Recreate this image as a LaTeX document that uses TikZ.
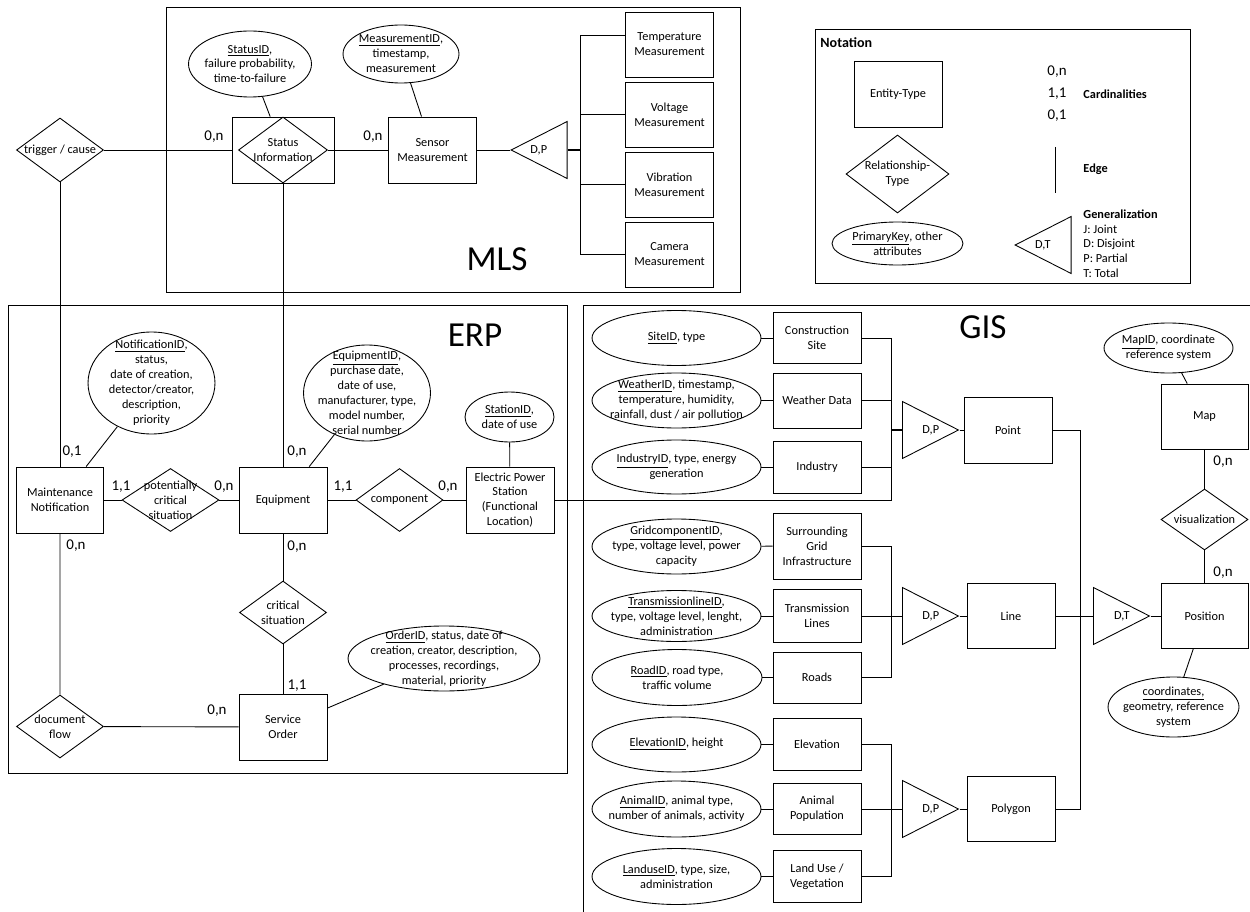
\documentclass[tikz,border=0pt]{standalone}
\usepackage{fontspec}
\setmainfont{Carlito}
\usepackage{tikz}
\usetikzlibrary{shapes.geometric, calc}
\newcommand{\erfont}{\fontsize{7}{8.5}\selectfont}
\newcommand{\cardfont}{\fontsize{8.5}{10}\selectfont}
\newcommand{\regionfont}{\fontsize{20}{24}\selectfont}
\tikzset{
    entity/.style={rectangle, draw, inner sep=1pt, minimum width=1.76cm, minimum height=1.32cm, align=center, font=\erfont},
    relation/.style={diamond, draw, inner sep=0pt, minimum width=1.74cm, minimum height=1.26cm, label={[font=\erfont, align=center]center:#1}},
    attribute/.style={ellipse, draw, inner sep=0pt, label={[font=\erfont, align=center]center:#1}},
    generalization/.style={isosceles triangle, isosceles triangle stretches, draw, inner sep=0pt, minimum width=1.14cm, minimum height=1.12cm},
    gentext/.style={font=\erfont, inner sep=0pt},
    card/.style={font=\cardfont, inner sep=0pt},
    region/.style={font=\regionfont, inner sep=0pt},
    keytext/.style={font=\erfont\bfseries, anchor=west, inner sep=0pt},
    gbus/.style={line width=1pt}
}

\begin{document}
\begin{tikzpicture}[x=0.02cm, y=-0.02cm, line width=0.5pt]
    \useasboundingbox (0,0) rectangle (1250,912);

    % Frames
    \draw (166,7) rectangle (740,292);
    \draw (8,305) rectangle (567,773);
    \draw (1250,305) -| (583,912);
    \draw (815,29) rectangle (1190,283);
    \node[region] (mlstitle) at (497,259) {MLS};
    \node[region] (erptitle) at (475,335) {ERP};
    \node[region] (gistitle) at (983,327) {GIS};

    % MLS
    \node[attribute={\underline{StatusID},\\failure probability,\\time-to-failure}, minimum width=2.46cm, minimum height=1.32cm] (statattr) at (250,64) {};
    \node[entity, minimum width=2.04cm] (statbox) at (283,150) {};
    \node[relation={Status\\Information}, minimum width=1.78cm, minimum height=1.32cm] (statrel) at (283,150) {};
    \node[attribute={\underline{MeasurementID},\\timestamp,\\measurement}, minimum width=2.32cm, minimum height=1.16cm] (measattr) at (401,54) {};
    \node[entity] (sensor) at (432.5,150) {Sensor\\Measurement};
    \node[relation={trigger / cause}, minimum height=1.28cm] (trig) at (60,150) {};
    \node[generalization, shape border rotate=180, anchor=apex] (gm) at (510,150) {};
    \node[gentext] (gmtxt) at ($(gm.apex)!.5!(gm.lower side)$) {D,P};
    \node[entity, minimum height=1.3cm] (temp) at (669.5,44.5) {Temperature\\Measurement};
    \node[entity, minimum height=1.3cm] (volt) at (669.5,114.5) {Voltage\\Measurement};
    \node[entity, minimum height=1.3cm] (vib) at (669.5,184.5) {Vibration\\Measurement};
    \node[entity, minimum height=1.3cm] (cam) at (669.5,254.5) {Camera\\Measurement};
    \coordinate (mbus) at (580,150);
    \node[card] (cstat) at (214,137) {0,n};
    \node[card] (csens) at (373,137) {0,n};

    \draw (trig) -- (statbox);
    \draw (statrel) -- (sensor);
    \draw (statattr) -- (statbox);
    \draw (measattr) -- (sensor);
    \draw (sensor) -- (gm.apex);
    \draw[gbus] (gm.lower side) -- (mbus);
    \draw ([yshift=0.19cm]temp.west) -| (cam.west -| mbus) -- (cam.west);
    \draw (volt.west) -- (volt.west -| mbus);
    \draw (vib.west) -- (vib.west -| mbus);

    % Notation
    \node[font=\fontsize{8}{10}\selectfont\bfseries, anchor=west, inner sep=0pt] (nottitle) at (820,43) {Notation};
    \node[entity] (nent) at (898,94) {Entity-Type};
    \node[relation={Relationship-\\Type}, minimum width=2.06cm, minimum height=1.56cm] (nrel) at (897.5,174) {};
    \node[attribute={\underline{PrimaryKey}, other\\attributes}, minimum width=2.62cm, minimum height=0.86cm] (nattr) at (897.5,243.5) {};
    \node[card] (n0n) at (1057,72) {0,n};
    \node[card] (n11) at (1057,94) {1,1};
    \node[card] (n01) at (1057,116) {0,1};
    \node[keytext] (ncard) at (1083,94) {Cardinalities};
    \coordinate (nedgetop) at (1055,147);
    \coordinate (nedgebot) at (1055,193);
    \draw (nedgetop) -- (nedgebot);
    \node[keytext] (nedge) at (1083,169) {Edge};
    \node[generalization, shape border rotate=180, anchor=apex] (ngen) at (1014,245) {};
    \node[gentext] (ngentxt) at ($(ngen.apex)!.5!(ngen.lower side)$) {D,T};
    \node[font=\erfont, anchor=north west, align=left, inner sep=0pt] (ngenkey) at (1083,209) {\textbf{Generalization}\\J: Joint\\D: Disjoint\\P: Partial\\T: Total};

    % ERP
    \node[attribute={\underline{NotificationID},\\status,\\date of creation,\\detector/creator,\\description,\\priority}, minimum width=2.54cm, minimum height=2.04cm] (notifattr) at (151.5,383) {};
    \node[entity, minimum width=1.74cm] (maint) at (60,500) {Maintenance\\Notification};
    \node[relation={potentially\\critical\\situation}, minimum width=1.94cm] (pcs) at (170.5,500) {};
    \node[entity] (equip) at (283,500) {Equipment};
    \node[attribute={\underline{EquipmentID},\\purchase date,\\date of use,\\manufacturer, type,\\model number,\\serial number}, minimum width=2.54cm, minimum height=1.92cm] (equipattr) at (367,393) {};
    \node[relation={component}] (comp) at (399.5,500) {};
    \node[entity] (eps) at (510,500) {Electric Power\\Station\\(Functional\\Location)};
    \node[attribute={\underline{StationID},\\date of use}, minimum width=1.78cm, minimum height=1cm] (stationattr) at (509.5,417) {};
    \node[relation={critical\\situation}] (crit) at (283,612.5) {};
    \node[entity] (svc) at (283,727) {Service\\Order};
    \node[attribute={\underline{OrderID}, status, date of\\creation, creator, description,\\processes, recordings,\\material, priority}, minimum width=3.84cm, minimum height=1.3cm] (orderattr) at (444,658.5) {};
    \node[relation={document\\flow}] (docflow) at (60,726.5) {};
    \node[card] (cmaintt) at (72,452) {0,1};
    \node[card] (cmaintb) at (76,546) {0,n};
    \node[card] (cpcsl) at (121,487) {1,1};
    \node[card] (cpcsr) at (224,487) {0,n};
    \node[card] (cequipt) at (297,452) {0,n};
    \node[card] (cequipb) at (297,547) {0,n};
    \node[card] (ccompl) at (343,487) {1,1};
    \node[card] (ccompr) at (448,487) {0,n};
    \node[card] (csvct) at (297,686) {1,1};
    \node[card] (csvcl) at (217,711) {0,n};

    \draw (trig) -- (maint);
    \draw (statrel) -- (equip);
    \draw (notifattr) -- (maint);
    \draw (maint) -- (pcs) -- (equip) -- (comp) -- (eps);
    \draw (equipattr) -- (equip);
    \draw (stationattr) -- (eps);
    \draw (equip) -- (crit) -- (svc);
    \draw (orderattr) -- (svc);
    \draw (maint) -- (docflow) -- (svc);

    % GIS
    \node[attribute={\underline{SiteID}, type}, minimum width=3.38cm, minimum height=1.1cm] (siteattr) at (676.5,338) {};
    \node[entity, minimum height=1.02cm] (site) at (817,338) {Construction\\Site};
    \node[attribute={\underline{WeatherID}, timestamp,\\temperature, humidity,\\rainfall, dust / air pollution}, minimum width=3.38cm, minimum height=1.1cm] (weatherattr) at (676.5,400.5) {};
    \node[entity, minimum height=1.1cm] (weather) at (817,400.5) {Weather Data};
    \node[attribute={\underline{IndustryID}, type, energy\\generation}, minimum width=3.38cm, minimum height=1.08cm] (industryattr) at (676.5,467) {};
    \node[entity, minimum height=1.04cm] (industry) at (817,467) {Industry};
    \node[attribute={\underline{GridcomponentID},\\type, voltage level, power\\capacity}, minimum width=3.38cm, minimum height=1.1cm] (gridattr) at (676.5,546.5) {};
    \node[entity] (grid) at (817,546) {Surrounding\\Grid\\Infrastructure};
    \node[attribute={\underline{TransmissionlineID},\\type, voltage level, lenght,\\administration}, minimum width=3.38cm, minimum height=1.02cm] (transattr) at (676.5,616) {};
    \node[entity, minimum height=1.06cm] (trans) at (817,616) {Transmission\\Lines};
    \node[attribute={\underline{RoadID}, road type,\\traffic volume}, minimum width=3.4cm, minimum height=1.12cm] (roadattr) at (677,677.5) {};
    \node[entity, minimum height=1.02cm] (roads) at (817,677.5) {Roads};
    \node[attribute={\underline{ElevationID}, height}, minimum width=3.38cm, minimum height=1.1cm] (elevattr) at (676.5,744.5) {};
    \node[entity, minimum height=1.04cm] (elev) at (817,744.5) {Elevation};
    \node[attribute={\underline{AnimalID}, animal type,\\number of animals, activity}, minimum width=3.38cm, minimum height=1.12cm] (animalattr) at (676.5,809) {};
    \node[entity, minimum height=1.02cm] (animal) at (817,809) {Animal\\Population};
    \node[attribute={\underline{LanduseID}, type, size,\\administration}, minimum width=3.38cm, minimum height=1.12cm] (landattr) at (676.5,876.5) {};
    \node[entity, minimum height=1.04cm] (land) at (817,876.5) {Land Use /\\Vegetation};

    \node[generalization, anchor=lower side] (gp) at (902,430) {};
    \node[gentext] (gptxt) at ($(gp.apex)!.5!(gp.lower side)$) {D,P};
    \node[entity] (point) at (1008,430) {Point};
    \node[generalization, anchor=lower side] (gl) at (902,616) {};
    \node[gentext] (gltxt) at ($(gl.apex)!.5!(gl.lower side)$) {D,P};
    \node[entity, minimum height=1.3cm] (lineent) at (1011,616) {Line};
    \node[generalization, anchor=lower side] (gy) at (902,809) {};
    \node[gentext] (gytxt) at ($(gy.apex)!.5!(gy.lower side)$) {D,P};
    \node[entity, minimum height=1.3cm] (poly) at (1011,809) {Polygon};
    \node[generalization, anchor=lower side] (gt) at (1093,616) {};
    \node[gentext] (gttxt) at ($(gt.apex)!.5!(gt.lower side)$) {D,T};
    \node[entity, minimum width=1.74cm, minimum height=1.3cm] (pos) at (1204.5,616) {Position};
    \node[entity, minimum width=1.74cm, minimum height=1.3cm] (map) at (1204.5,416.5) {Map};
    \node[attribute={\underline{MapID}, coordinate\\reference system}, minimum width=2.58cm, minimum height=1cm] (mapattr) at (1168.5,348) {};
    \node[relation={visualization}, minimum height=1.22cm] (vis) at (1204.5,519.5) {};
    \node[attribute={\underline{coordinates,}\\geometry, reference\\system}, minimum width=2.62cm, minimum height=1.2cm] (posattr) at (1173.5,707) {};
    \node[card] (cmap) at (1223,462) {0,n};
    \node[card] (cpos) at (1223,573) {0,n};
    \coordinate (pbus) at (891,430);
    \coordinate (lbus) at (891,616);
    \coordinate (ybus) at (891,809);
    \coordinate (sbus) at (1080,616);

    \foreach \a/\b in {siteattr/site, weatherattr/weather, industryattr/industry, gridattr/grid, transattr/trans, roadattr/roads, elevattr/elev, animalattr/animal, landattr/land}
        \draw (\a) -- (\b);
    \draw (site.east) -| (eps.east -| pbus) -- (eps.east);
    \draw (weather.east) -- (weather.east -| pbus);
    \draw (industry.east) -- (industry.east -| pbus);
    \draw[gbus] (pbus) -- (gp.lower side);
    \draw (gp.apex) -- (point);
    \draw (grid.east) -| (roads.east -| lbus) -- (roads.east);
    \draw (trans.east) -- (gl.lower side);
    \draw (gl.apex) -- (lineent);
    \draw (elev.east) -| (land.east -| ybus) -- (land.east);
    \draw (animal.east) -- (gy.lower side);
    \draw (gy.apex) -- (poly);
    \draw (point.east) -| (poly.east -| sbus) -- (poly.east);
    \draw (lineent.east) -- (gt.lower side);
    \draw (gt.apex) -- (pos);
    \draw (mapattr) -- (map);
    \draw (map) -- (vis) -- (pos);
    \draw (posattr) -- (pos);
\end{tikzpicture}
\end{document}
